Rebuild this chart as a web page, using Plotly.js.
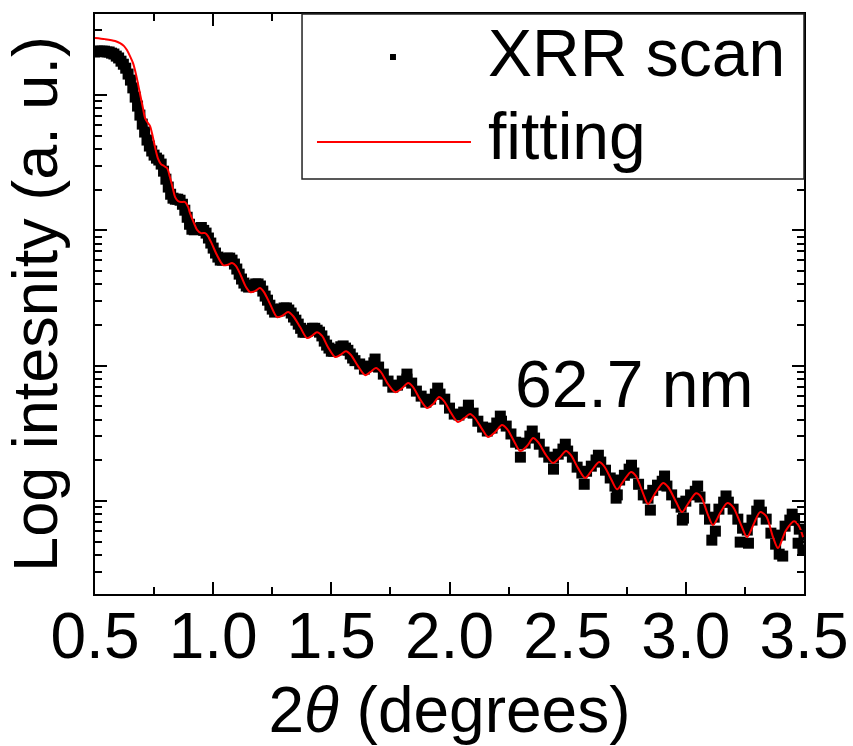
<!DOCTYPE html>
<html>
<head>
<meta charset="utf-8">
<script src="https://cdn.plot.ly/plotly-3.0.1.min.js"></script>
<style>
html,body{margin:0;padding:0;background:#fff;}
#chart{width:853px;height:746px;}
</style>
</head>
<body>
<div id="chart"></div>
<script>
// XRR scan (2θ in degrees, intensity in arbitrary units)
const scanX = [
0.50,0.51,0.52,0.53,0.54,0.55,0.56,0.57,0.58,0.59,
0.60,0.61,0.62,0.63,0.64,0.65,0.66,0.67,0.68,0.69,
0.70,0.71,0.72,0.73,0.74,0.75,0.76,0.77,0.78,0.79,
0.80,0.81,0.82,0.83,0.84,0.85,0.86,0.87,0.88,0.89,
0.90,0.91,0.92,0.93,0.94,0.95,0.96,0.97,0.98,0.99,
1.00,1.01,1.02,1.03,1.04,1.05,1.06,1.07,1.08,1.09,
1.10,1.11,1.12,1.13,1.14,1.15,1.16,1.17,1.18,1.19,
1.20,1.21,1.22,1.23,1.24,1.25,1.26,1.27,1.28,1.29,
1.30,1.31,1.32,1.33,1.34,1.35,1.36,1.37,1.38,1.39,
1.40,1.41,1.42,1.43,1.44,1.45,1.46,1.47,1.48,1.49,
1.50,1.51,1.52,1.53,1.54,1.55,1.56,1.57,1.58,1.59,
1.60,1.62,1.64,1.66,1.68,1.70,1.72,1.74,1.76,1.78,
1.80,1.82,1.84,1.86,1.88,1.90,1.92,1.94,1.96,1.98,
2.00,2.02,2.04,2.06,2.08,2.10,2.12,2.14,2.16,2.18,
2.20,2.22,2.24,2.26,2.28,2.30,2.32,2.34,2.36,2.38,
2.40,2.42,2.44,2.46,2.48,2.50,2.52,2.54,2.56,2.58,
2.60,2.62,2.64,2.66,2.68,2.70,2.705,2.72,2.74,2.76,
2.78,2.80,2.82,2.84,2.86,2.88,2.90,2.92,2.94,2.96,
2.98,2.985,3.00,3.02,3.04,3.06,3.08,3.10,3.11,3.12,
3.14,3.16,3.18,3.20,3.22,3.23,3.24,3.26,3.28,3.30,
3.32,3.34,3.36,3.38,3.40,3.41,3.42,3.44,3.46,3.475,
3.48,3.495,3.50,
// scattered points around the fringe maxima / minima
1.685,1.82,1.95,2.08,2.215,
2.30,2.35,2.44,2.49,2.57,2.63,2.71,2.77,2.85,2.91,
2.99,3.05,3.125,3.17,3.265,3.31,3.395,3.45
];
const scanY = [
2.08e6,2.11e6,2.11e6,2.11e6,2.11e6,2.08e6,2.08e6,2.04e6,2.01e6,1.94e6,
1.88e6,1.78e6,1.69e6,1.58e6,1.43e6,1.29e6,1.13e6,9.66e5,8.29e5,7.11e5,
6.10e5,5.33e5,4.65e5,4.20e5,3.86e5,3.60e5,3.42e5,3.31e5,3.09e5,2.74e5,
2.39e5,2.09e5,1.85e5,1.73e5,1.70e5,1.70e5,1.67e5,1.56e5,1.41e5,1.25e5,
1.11e5,1.02e5,1.01e5,1.02e5,1.04e5,1.05e5,1.00e5,9.55e4,8.78e4,8.06e4,
7.40e4,6.80e4,6.35e4,6.03e4,6.03e4,6.14e4,6.24e4,6.24e4,6.03e4,5.64e4,
5.18e4,4.75e4,4.37e4,4.08e4,3.88e4,3.81e4,3.88e4,3.94e4,4.02e4,4.02e4,
3.88e4,3.56e4,3.27e4,3.05e4,2.80e4,2.62e4,2.49e4,2.54e4,2.54e4,2.62e4,
2.67e4,2.67e4,2.58e4,2.45e4,2.29e4,2.17e4,2.03e4,1.89e4,1.77e4,1.77e4,
1.80e4,1.83e4,1.89e4,1.89e4,1.83e4,1.77e4,1.66e4,1.52e4,1.42e4,1.35e4,
1.28e4,1.28e4,1.30e4,1.32e4,1.38e4,1.40e4,1.35e4,1.30e4,1.22e4,1.14e4,
1.09e4,1.03e4,9.44e3,9.94e3,1.05e4,9.77e3,8.67e3,7.70e3,6.94e3,7.19e3,
7.70e3,7.96e3,7.44e3,6.49e3,5.96e3,5.38e3,5.66e3,6.17e3,6.17e3,5.66e3,
4.86e3,4.39e3,4.32e3,4.54e3,4.78e3,4.46e3,3.89e3,3.52e3,3.29e3,3.46e3,
3.77e3,3.89e3,3.58e3,3.13e3,2.72e3,2.64e3,2.68e3,3.02e3,2.92e3,2.63e3,
2.30e3,2.11e3,2.08e3,2.22e3,2.42e3,2.34e3,2.11e3,1.78e3,1.61e3,1.66e3,
1.81e3,2.01e3,1.94e3,1.69e3,1.48e3,1.29e3,1.05e3,1.43e3,1.55e3,1.72e3,
1.61e3,1.33e3,1.11e3,1.05e3,1.20e3,1.31e3,1.40e3,1.29e3,1.11e3,965,
901,723,998,1.11e3,1.18e3,1.07e3,871,735,514,760,
871,981,981,871,735,497,630,610,723,842,
828,735,579,480,560,392,652,723,723,488,
620,434,560,
1.12e4,8.67e3,6.83e3,5.11e3,4.24e3,
2.11e3,3.29e3,1.72e3,2.63e3,1.33e3,2.18e3,1.11e3,1.84e3,857,1.53e3,
748,1.29e3,599,1.09e3,488,933,405,800
];

// Fitting curve
const fitX = [
0.500,0.542,0.585,0.606,0.623,0.635,0.648,0.661,0.674,0.682,0.690,
0.703,0.712,0.724,0.733,0.741,0.754,0.767,0.779,0.792,0.805,
0.817,0.830,0.839,0.851,0.864,0.881,0.894,0.902,0.919,0.932,
0.949,0.966,0.978,0.995,1.016,1.042,1.059,1.080,1.097,1.118,
1.139,1.156,1.177,1.198,1.215,1.241,1.270,1.291,1.317,1.338,
1.368,1.397,1.418,1.439,1.461,1.486,1.516,1.537,1.562,1.583,
1.613,1.643,1.664,1.689,1.710,1.740,1.770,1.795,1.825,1.846,
1.875,1.905,1.930,1.956,1.977,2.007,2.036,2.062,2.087,2.108,
2.138,2.163,2.193,2.222,2.244,2.273,2.299,2.328,2.354,2.375,
2.409,2.438,2.468,2.493,2.514,2.544,2.574,2.603,2.633,2.654,
2.684,2.709,2.739,2.768,2.789,2.819,2.840,2.870,2.904,2.925,
2.959,2.984,3.014,3.043,3.065,3.094,3.115,3.145,3.175,3.200,
3.234,3.259,3.289,3.314,3.340,3.369,3.390,3.424,3.458,3.479,3.496
];
const fitY = [
2.64e6,2.59e6,2.51e6,2.42e6,2.30e6,2.15e6,1.94e6,1.72e6,1.41e6,1.21e6,1.03e6,
8.01e5,6.76e5,6.21e5,5.90e5,5.24e5,4.13e5,3.37e5,3.09e5,2.99e5,2.89e5,
2.48e5,2.02e5,1.76e5,1.65e5,1.62e5,1.62e5,1.49e5,1.34e5,1.13e5,1.01e5,
9.55e4,9.55e4,9.08e4,7.92e4,6.57e4,5.54e4,5.54e4,5.73e4,5.45e4,4.60e4,
3.81e4,3.50e4,3.56e4,3.75e4,3.50e4,2.85e4,2.29e4,2.33e4,2.49e4,2.33e4,
1.93e4,1.60e4,1.66e4,1.77e4,1.66e4,1.37e4,1.16e4,1.20e4,1.28e4,1.20e4,
9.93e3,8.52e3,8.97e3,9.60e3,8.97e3,7.31e3,6.38e3,6.71e3,7.44e3,6.95e3,
5.66e3,4.86e3,5.20e3,5.86e3,5.47e3,4.46e3,3.83e3,4.10e3,4.39e3,4.10e3,
3.40e3,2.97e3,3.23e3,3.64e3,3.40e3,2.77e3,2.34e3,2.55e3,2.92e3,2.72e3,
2.18e3,1.91e3,2.11e3,2.34e3,2.18e3,1.75e3,1.48e3,1.69e3,1.94e3,1.81e3,
1.45e3,1.22e3,1.43e3,1.64e3,1.53e3,1.14e3,949,1.14e3,1.36e3,1.27e3,
982,828,982,1.14e3,1.07e3,787,664,814,965,902,
664,541,687,828,773,541,449,609,710,652,541
];

const seriesNames = ["XRR scan", "fitting"];
const xTitle = "2<i>θ</i> (degrees)";
const yTitle = "Log intesnity (a. u.)";
const thicknessLabel = "62.7 nm";

const FONT = "Liberation Sans, Arial, Helvetica, sans-serif";

const traces = [
  {
    x: scanX, y: scanY, type: "scatter", mode: "markers", name: seriesNames[0],
    marker: {symbol: "square", size: 11, color: "#000000", line: {width: 0}}
  },
  {
    x: fitX, y: fitY, type: "scatter", mode: "lines", name: seriesNames[1],
    line: {color: "#ff0000", width: 2, shape: "spline", smoothing: 0.8}
  }
];

// legend box drawn in paper coordinates of the plot area
const legendShapes = [
  {type: "rect", xref: "paper", yref: "paper", x0: 0.292, x1: 1.0, y0: 0.7155, y1: 1.0,
   line: {color: "#222222", width: 1.5}, fillcolor: "#ffffff", layer: "above"},
  {type: "rect", xref: "paper", yref: "paper", x0: 0.4161, x1: 0.4245, y0: 0.9207, y1: 0.9310,
   line: {width: 0}, fillcolor: "#000000", layer: "above"},
  {type: "line", xref: "paper", yref: "paper", x0: 0.3131, x1: 0.5303, y0: 0.7793, y1: 0.7793,
   line: {color: "#ff0000", width: 2}, layer: "above"}
];

const layout = {
  width: 853, height: 746,
  margin: {l: 95, r: 49, t: 14, b: 152},
  paper_bgcolor: "#ffffff", plot_bgcolor: "#ffffff",
  font: {family: FONT, size: 64, color: "#000000"},
  showlegend: false,
  xaxis: {
    range: [0.5, 3.5], tick0: 0.5, dtick: 0.5, tickformat: ".1f",
    showline: true, linecolor: "#000000", linewidth: 2, mirror: "ticks",
    ticks: "inside", ticklen: 12, tickwidth: 2, tickcolor: "#000000",
    minor: {dtick: 0.25, ticks: "inside", ticklen: 7, tickwidth: 2, tickcolor: "#000000"},
    showgrid: false, zeroline: false,
    ticklabelstandoff: -15,
    tickfont: {family: FONT, size: 64, color: "#000000"},
    title: {text: xTitle, font: {family: FONT, size: 64, color: "#000000"}, standoff: 50}
  },
  yaxis: {
    type: "log", range: [2.313, 6.599], dtick: 1,
    showline: true, linecolor: "#000000", linewidth: 2, mirror: "ticks",
    ticks: "inside", ticklen: 12, tickwidth: 2, tickcolor: "#000000",
    minor: {dtick: "D1", ticks: "inside", ticklen: 7, tickwidth: 2, tickcolor: "#000000"},
    showticklabels: false, showgrid: false, zeroline: false,
    title: {text: yTitle, font: {family: FONT, size: 63, color: "#000000"}, standoff: 20}
  },
  shapes: legendShapes,
  annotations: [
    {text: thicknessLabel, xref: "paper", yref: "paper", x: 0.760, y: 0.362,
     xanchor: "center", yanchor: "middle", showarrow: false,
     font: {family: FONT, size: 66, color: "#000000"}},
    {text: seriesNames[0], xref: "paper", yref: "paper", x: 0.5515, y: 0.9328,
     xanchor: "left", yanchor: "middle", showarrow: false,
     font: {family: FONT, size: 66, color: "#000000"}},
    {text: seriesNames[1], xref: "paper", yref: "paper", x: 0.5515, y: 0.7897,
     xanchor: "left", yanchor: "middle", showarrow: false,
     font: {family: FONT, size: 66, color: "#000000"}}
  ]
};

Plotly.newPlot("chart", traces, layout, {displayModeBar: false, staticPlot: true});
</script>
</body>
</html>
